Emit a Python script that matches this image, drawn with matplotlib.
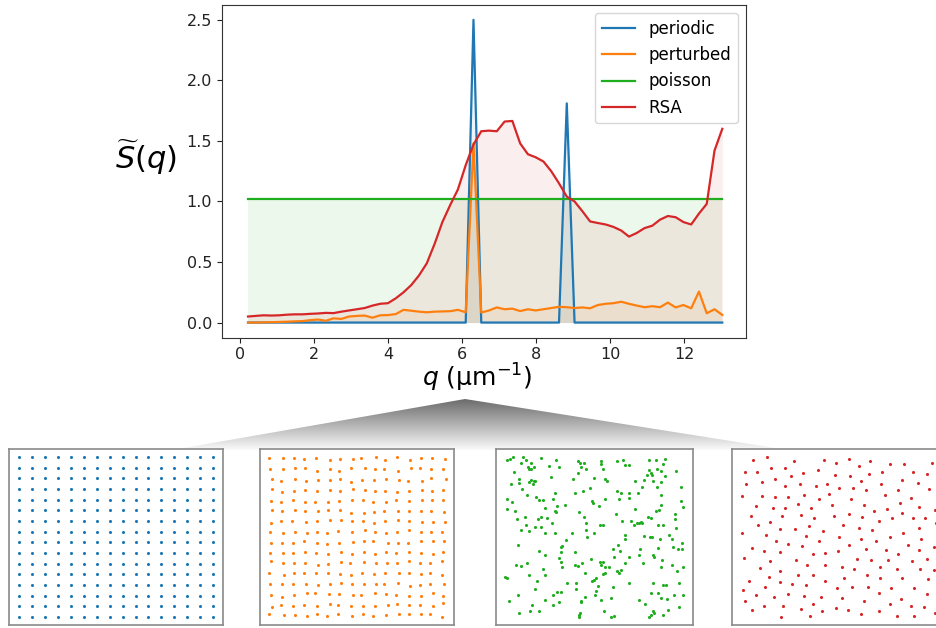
import numpy as np
import matplotlib
matplotlib.use("Agg")
import matplotlib.pyplot as plt
from matplotlib.patches import Polygon

# ---------------- main chart data ----------------
q = np.linspace(0.22, 13.02, 62)

periodic = [0.0] * 29 + [2.5] + [0.0] * 11 + [1.81] + [0.0] * 20

perturbed = [0.0, 0.0, 0.002, 0.003, 0.005, 0.007, 0.01, 0.012, 0.02, 0.025,
             0.015, 0.035, 0.03, 0.05, 0.055, 0.058, 0.04, 0.06, 0.062, 0.07,
             0.105, 0.098, 0.09, 0.085, 0.09, 0.092, 0.094, 0.105, 0.085, 1.48,
             0.083, 0.10, 0.125, 0.11, 0.115, 0.095, 0.11, 0.10, 0.11, 0.12,
             0.13, 0.127, 0.12, 0.125, 0.118, 0.145, 0.155, 0.16, 0.172, 0.155,
             0.14, 0.127, 0.135, 0.127, 0.165, 0.125, 0.145, 0.118, 0.256, 0.077,
             0.11, 0.063]

poisson = [1.02] * 62

rsa = [0.05, 0.055, 0.06, 0.058, 0.06, 0.065, 0.068, 0.068, 0.072, 0.075,
       0.08, 0.078, 0.09, 0.10, 0.11, 0.12, 0.14, 0.155, 0.16, 0.20,
       0.25, 0.31, 0.39, 0.49, 0.65, 0.83, 0.97, 1.10, 1.30, 1.47,
       1.58, 1.585, 1.58, 1.66, 1.665, 1.48, 1.39, 1.365, 1.33, 1.25,
       1.15, 1.04, 1.00, 0.92, 0.835, 0.822, 0.81, 0.79, 0.76, 0.71,
       0.74, 0.78, 0.80, 0.85, 0.88, 0.87, 0.83, 0.81, 0.90, 0.98,
       1.42, 1.60]

series_names = ["periodic", "perturbed", "poisson", "RSA"]
series_colors = ["#1f77b4", "#ff7f0e", "#1fae1f", "#d62728"]

xticks = [0, 2, 4, 6, 8, 10, 12]
yticks = [0.0, 0.5, 1.0, 1.5, 2.0, 2.5]

# ---------------- point-pattern panels (read in crop pixel units) ----------------
# periodic lattice columns / rows
lat_cols = [58, 97, 135, 174, 212, 252, 290, 329, 368, 407, 445, 484, 523, 562, 600, 640]
lat_rows = [52, 83, 115, 147, 179, 211, 243, 275, 307, 339, 371, 403, 435, 467, 499, 531]

pert_pts = [
    (57,54),(99,54),(133,54),(163,56),(198,54),(240,60),(271,58),(308,58),(334,54),(379,52),(406,60),(441,52),(481,60),(514,54),(546,54),(585,58),
    (61,88),(99,86),(134,84),(164,84),(200,92),(240,86),(268,92),(303,84),(345,84),(374,88),(403,86),(445,92),(484,84),(510,84),(544,86),(578,86),
    (66,118),(94,123),(136,118),(167,123),(203,121),(239,119),(271,117),(304,125),(336,121),(373,121),(409,118),(446,119),(474,123),(516,123),(544,115),(587,116),
    (65,148),(96,156),(132,152),(165,150),(200,154),(240,150),(269,152),(309,146),(344,150),(374,152),(405,154),(441,156),(478,152),(517,150),(545,152),(578,150),
    (63,183),(92,187),(130,179),(165,185),(196,185),(234,185),(267,183),(306,179),(338,181),(370,187),(408,185),(437,179),(478,183),(515,181),(547,179),(578,179),
    (65,210),(95,212),(134,210),(165,214),(204,214),(234,210),(270,210),(303,218),(341,218),(373,216),(402,214),(445,212),(478,212),(514,212),(543,212),(583,216),
    (63,248),(93,244),(127,244),(169,246),(200,244),(240,241),(274,241),(307,242),(340,244),(373,248),(406,244),(443,241),(478,244),(516,246),(549,246),(585,246),
    (61,275),(100,279),(135,277),(170,279),(202,275),(231,279),(265,273),(306,277),(344,271),(375,275),(408,280),(442,277),(476,271),(513,277),(543,277),(577,275),
    (64,308),(95,308),(129,308),(163,304),(200,308),(230,311),(267,308),(309,306),(342,302),(370,302),(413,308),(444,310),(474,310),(514,304),(548,304),(582,302),
    (61,338),(99,338),(129,340),(165,337),(197,340),(235,341),(274,335),(305,341),(343,337),(375,341),(407,335),(438,339),(477,337),(514,339),(548,341),(579,337),
    (63,364),(98,368),(133,370),(166,368),(204,374),(233,372),(272,366),(300,370),(341,366),(377,370),(410,370),(441,370),(476,364),(510,368),(541,368),(576,364),
    (57,398),(101,405),(132,400),(163,400),(199,398),(233,400),(269,402),(303,406),(337,398),(373,402),(405,400),(446,400),(477,400),(513,402),(541,398),(576,406),
    (61,433),(96,433),(130,431),(169,431),(204,435),(239,433),(272,429),(306,431),(341,431),(377,433),(403,433),(444,429),(479,437),(511,435),(541,433),(582,433),
    (64,464),(95,470),(132,464),(170,460),(196,460),(236,462),(268,462),(310,466),(334,466),(375,460),(408,462),(438,464),(477,468),(512,468),(548,460),(578,468),
    (66,500),(94,494),(128,498),(163,496),(200,498),(239,492),(265,496),(304,498),(339,498),(375,498),(413,496),(442,492),(478,496),(509,494),(548,498),(578,490),
    (57,523),(101,525),(135,525),(170,529),(200,523),(232,527),(265,523),(305,527),(340,523),(369,529),(407,525),(447,523),(476,523),(514,523),(541,523),(577,531),
]

pois_pts = [
    (50,60),(60,56),(70,52),(98,52),(108,60),(92,68),(122,70),(114,80),(132,82),(124,88),(116,86),(152,54),(176,78),(198,60),(206,82),(72,97),
    (264,62),(270,68),(282,70),(288,86),(272,82),(334,62),(332,72),(340,86),(380,64),(400,60),(404,74),(418,74),(476,60),(498,60),(524,56),(518,72),
    (478,90),(482,98),(486,104),(472,104),(500,86),(514,94),(524,108),(558,92),(264,100),
    (62,133),(88,118),(88,130),(96,148),(116,126),(124,120),(132,124),(136,124),(130,132),(182,112),(250,116),(312,114),(346,118),(350,122),
    (434,122),(462,120),(488,122),(512,126),(572,142),(500,142),(456,142),
    (52,176),(66,186),(52,206),(112,164),(138,170),(148,180),(158,180),(188,176),(196,160),(256,160),(278,152),(300,144),(306,184),(310,190),
    (328,198),(344,176),(380,152),(392,160),(386,176),(418,160),(416,174),(444,160),(514,166),(572,184),(578,200),(512,194),(498,212),(508,210),
    (74,212),(80,236),(104,232),(108,256),(92,270),(118,274),(136,260),(144,238),(152,232),(154,260),(166,204),(172,234),(186,248),(194,212),
    (198,216),(202,198),(226,196),(166,280),(196,278),(268,216),(282,232),(288,248),(288,270),(292,292),(312,280),(330,256),(338,256),(246,280),
    (228,300),(378,222),(396,242),(424,244),(432,254),(440,250),(446,248),(452,246),(456,248),(474,232),(482,234),(436,208),(504,254),(518,256),
    (556,222),(556,238),(558,264),(404,286),(404,296),(462,288),(480,292),(486,292),(510,298),(536,286),(546,296),
    (84,316),(146,334),(164,344),(212,322),(216,318),(214,336),(206,354),(212,366),(216,380),(254,336),(78,376),(92,378),(110,368),(160,386),
    (166,404),(116,404),(256,376),(264,378),(276,370),(302,358),(330,366),(332,374),(340,366),(344,380),(358,380),(370,328),(384,316),(390,332),
    (372,352),(404,370),(418,350),(382,394),(388,398),(392,390),(344,400),(340,402),(450,328),(446,346),(458,370),(488,344),(492,352),(504,324),
    (516,360),(548,320),(564,326),(576,326),(576,310),(512,380),(546,374),(580,382),(560,394),
    (46,410),(50,414),(140,424),(136,448),(84,464),(58,484),(126,494),(146,512),(120,514),(86,518),(166,480),(190,464),(188,494),(200,456),
    (214,456),(206,486),(232,428),(258,430),(258,446),(286,400),(306,424),(312,420),(318,414),(324,438),(318,452),(314,466),(274,482),(272,486),
    (284,472),(270,518),(266,530),(268,526),(332,480),(342,512),(362,530),(372,528),(362,474),(370,442),(418,428),(488,428),(518,436),(528,436),
    (568,428),(484,458),(504,458),(514,474),(530,478),(552,466),(578,466),(448,480),(466,492),(488,514),(492,518),(484,524),(478,530),(520,526),
    (534,510),(566,500),
]

rsa_pts = [
    (84,60),(127,52),(206,62),(298,60),(332,68),(372,58),(435,62),(496,72),(536,72),(622,68),
    (59,95),(97,97),(137,83),(181,85),(235,99),(278,91),(330,105),(374,107),(403,79),(433,101),(471,97),(565,95),(607,101),
    (63,131),(111,127),(151,117),(179,139),(197,109),(225,131),(273,137),(307,131),(343,143),(383,145),(408,123),(424,151),(467,133),(532,121),(578,129),(519,151),(611,147),
    (51,169),(111,169),(151,171),(189,171),(238,165),(281,177),(311,161),(377,177),(479,165),(559,173),
    (93,199),(143,205),(179,203),(219,193),(258,203),(320,196),(418,194),(448,212),(487,206),(525,188),(583,200),(630,210),
    (77,227),(135,245),(172,229),(228,225),(268,233),(328,229),(372,221),(412,230),(463,244),(500,234),(531,219),(563,235),(599,233),(632,248),
    (99,255),(166,266),(209,268),(252,259),(293,273),(353,255),(402,263),(441,270),(533,278),(583,264),
    (52,280),(122,286),(153,302),(189,311),(244,288),(281,302),(343,292),(409,297),(453,302),(494,290),(549,314),(589,298),(626,320),
    (82,324),(118,332),(164,335),(231,318),(265,341),(301,339),(339,333),(373,314),(424,326),(483,330),(520,341),(583,331),
    (57,355),(135,363),(213,361),(247,375),(301,375),(351,381),(397,357),(437,361),(490,359),(562,363),(605,357),
    (105,384),(164,392),(220,406),(263,404),(299,422),(358,414),(387,388),(427,406),(464,382),(517,386),(585,388),(628,390),
    (73,424),(131,410),(166,426),(202,433),(242,436),(335,444),(382,442),(430,440),(466,414),(498,444),(532,415),(568,445),(608,417),
    (55,451),(93,466),(119,440),(146,470),(189,462),(236,468),(288,470),(351,474),(416,482),(462,460),(528,478),(605,462),
    (61,484),(80,509),(116,497),(173,499),(229,507),(263,491),(292,513),(333,505),(370,511),(408,521),(462,513),(495,493),(517,528),(557,497),(568,528),(597,501),(630,520),
    (169,532),(256,529),
]

# ---------------- figure ----------------
W, H = 936, 628
fig = plt.figure(figsize=(W / 100, H / 100), dpi=100)


def fig_box(l, t, r, b):
    return [l / W, 1 - b / H, (r - l) / W, (b - t) / H]


# background: gradient "zoom" triangle
bg = fig.add_axes([0, 0, 1, 1], zorder=0)
bg.set_xlim(0, W)
bg.set_ylim(H, 0)
bg.axis("off")
tri = Polygon([(465, 399), (172, 450), (788, 450)], closed=True,
              facecolor="none", edgecolor="none", transform=bg.transData)
bg.add_patch(tri)
grad = np.linspace(0.42, 0.98, 200).reshape(-1, 1)
im = bg.imshow(grad, cmap="gray", vmin=0, vmax=1, aspect="auto",
               extent=(150, 800, 450, 399), origin="upper", interpolation="bilinear")
im.set_clip_path(tri)

# main axes
ax = fig.add_axes(fig_box(221.7, 4.7, 746, 337.7), zorder=2)
all_series = [periodic, perturbed, poisson, rsa]
for name, col, vals in zip(series_names, series_colors, all_series):
    ax.plot(q, vals, color=col, lw=1.6, label=name)
for name, col, vals in zip(series_names, series_colors, all_series):
    ax.fill_between(q, 0, vals, color=col, alpha=0.08, lw=0)

ax.set_xlim(-0.49, 13.66)
ax.set_ylim(-0.125, 2.625)
ax.set_xticks(xticks)
ax.set_yticks(yticks)
ax.set_yticklabels([f"{v:.1f}" for v in yticks])
ax.tick_params(labelsize=11.5, colors="#222222")
for s in ax.spines.values():
    s.set_color("#333333")
leg = ax.legend(loc="upper right", fontsize=12, framealpha=0.8)

fig.text(477.5 / W, 1 - 378 / H, r"$q$ (µm$^{-1}$)", ha="center", va="center",
         fontsize=18)
fig.text(146 / W, 1 - 157 / H, r"$\widetilde{S}(q)$", ha="center", va="center",
         fontsize=22)


# panels
def panel(box, xlim, ylim):
    a = fig.add_axes(fig_box(*box), zorder=3)
    a.set_facecolor("white")
    a.set_xlim(*xlim)
    a.set_ylim(*ylim)
    a.set_xticks([])
    a.set_yticks([])
    for s in a.spines.values():
        s.set_color("#8a8a8a")
        s.set_linewidth(1.2)
    return a


msize = 5

a1 = panel((9.3, 449.3, 223.3, 625), (28, 670), (555, 28))
gx, gy = np.meshgrid(lat_cols, lat_rows)
a1.scatter(gx.ravel(), gy.ravel(), s=msize, color=series_colors[0], linewidths=0)

a2 = panel((260, 449, 454.3, 625), (30, 613), (555, 27))
a2.scatter([p[0] for p in pert_pts], [p[1] for p in pert_pts], s=msize,
           color=series_colors[1], linewidths=0)

a3 = panel((496, 449, 692.7, 625), (18, 608), (555, 27))
a3.scatter([p[0] for p in pois_pts], [p[1] for p in pois_pts], s=msize,
           color=series_colors[2], linewidths=0)

a4 = panel((732.3, 449, 950, 625), (22, 22 + (950 - 732.3) * 3), (555, 27))
a4.scatter([p[0] for p in rsa_pts], [p[1] for p in rsa_pts], s=msize,
           color=series_colors[3], linewidths=0)

fig.savefig("out.png", dpi=100)
